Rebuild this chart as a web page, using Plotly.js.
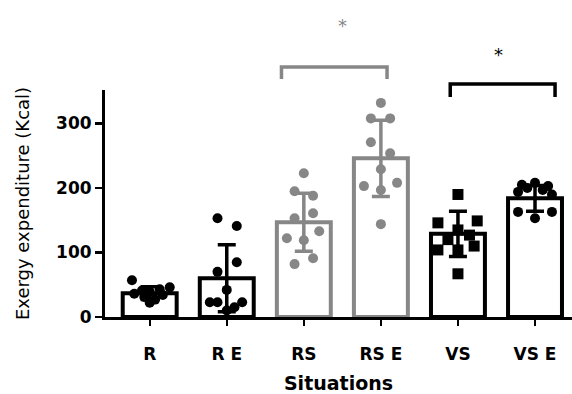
<!DOCTYPE html>
<html>
<head>
<meta charset="utf-8">
<script src="https://cdn.plot.ly/plotly-3.0.1.min.js"></script>
<style>html,body{margin:0;padding:0;background:#fff;}#chart{width:572px;height:394px;}</style>
</head>
<body>
<div id="chart"></div>
<script>
const categories = ["R", "R E", "RS", "RS E", "VS", "VS E"];
const means = [37, 60, 147, 246, 129, 184];
const sds = [10, 52, 45, 59, 35, 20];
const pointsR   = [57, 46, 43, 41, 39, 36, 34, 31, 27, 22];
const pointsRE  = [153, 141, 85, 70, 42, 23, 23, 23, 15, 10];
const pointsRS  = [223, 195, 188, 161, 153, 133, 122, 119, 91, 82];
const pointsRSE = [332, 308, 308, 271, 254, 229, 203, 208, 197, 144];
const pointsVS  = [190, 149, 146, 135, 127, 120, 110, 104, 104, 67];
const pointsVSE = [208, 205, 203, 200, 197, 194, 190, 163, 163, 153];
const jitterR   = [-0.23, 0.26, 0.13, -0.1, 0, -0.2, 0.17, -0.07, 0.07, 0];
const jitterRE  = [-0.12, 0.13, 0.13, -0.12, 0, -0.22, -0.12, 0.2, 0.1, 0];
const jitterRS  = [0, -0.12, 0.12, 0.12, -0.12, 0.2, -0.22, 0, 0.12, -0.12];
const jitterRSE = [0, -0.13, 0.12, -0.13, 0.12, 0, -0.22, 0.21, 0, 0];
const jitterVS  = [0, 0.25, -0.26, 0, 0.15, -0.13, 0.21, -0.26, 0, 0];
const jitterVSE = [0, -0.17, 0.17, -0.1, 0.1, -0.22, 0.22, -0.22, 0.22, 0];

const allPoints = [pointsR, pointsRE, pointsRS, pointsRSE, pointsVS, pointsVSE];
const allJitter = [jitterR, jitterRE, jitterRS, jitterRSE, jitterVS, jitterVSE];
const BLACK = "#000000", GRAY = "#878787";
const colors = [BLACK, BLACK, GRAY, GRAY, BLACK, BLACK];
const symbols = ["circle", "circle", "circle", "circle", "square", "circle"];

const traces = [];
categories.forEach((c, i) => {
  traces.push({
    type: "bar", x: [i], y: [means[i]], width: 0.7,
    marker: {color: "#ffffff", line: {color: colors[i], width: 4}},
    error_y: {type: "data", array: [sds[i]], visible: true, color: colors[i], thickness: 3.5, width: 9},
    showlegend: false, hoverinfo: "skip"
  });
});
categories.forEach((c, i) => {
  traces.push({
    type: "scatter", mode: "markers",
    x: allPoints[i].map((v, k) => i + allJitter[i][k]),
    y: allPoints[i],
    marker: {color: colors[i], size: symbols[i] === "square" ? 11 : 10, symbol: symbols[i]},
    showlegend: false, hoverinfo: "skip", cliponaxis: false
  });
});

const font = {family: "DejaVu Sans, sans-serif", color: "#000"};
const layout = {
  width: 572, height: 394,
  margin: {l: 105, r: 0, t: 90, b: 77},
  paper_bgcolor: "#fff", plot_bgcolor: "#fff",
  barmode: "overlay",
  showlegend: false,
  xaxis: {
    range: [-0.58, 5.48],
    tickvals: [0, 1, 2, 3, 4, 5], ticktext: categories,
    showgrid: false, zeroline: false,
    showline: true, linecolor: "#000", linewidth: 3,
    ticks: "outside", ticklen: 6, tickwidth: 2, tickcolor: "#000",
    ticklabelstandoff: 14,
    tickfont: Object.assign({}, font, {size: 17, weight: "bold"}),
    title: {text: "Situations", font: Object.assign({}, font, {size: 19, weight: "bold"}), standoff: 15}
  },
  yaxis: {
    range: [0, 352],
    tickvals: [0, 100, 200, 300],
    showgrid: false, zeroline: false,
    showline: true, linecolor: "#000", linewidth: 3,
    ticks: "outside", ticklen: 7, tickwidth: 2.5, tickcolor: "#000",
    tickfont: Object.assign({}, font, {size: 17, weight: "bold"}),
    title: {text: "Exergy expenditure (Kcal)", font: Object.assign({}, font, {size: 18}), standoff: 22}
  },
  shapes: [
    {type: "path", xref: "x", yref: "paper", path: "M1.71,1.048 L1.71,1.101 L3.08,1.101 L3.08,1.048",
     line: {color: GRAY, width: 3.5}},
    {type: "path", xref: "x", yref: "paper", path: "M3.9,0.969 L3.9,1.026 L5.26,1.026 L5.26,0.969",
     line: {color: BLACK, width: 3.5}}
  ],
  annotations: [
    {text: "*", x: 2.5, xref: "x", y: 1.34, yref: "paper", showarrow: false,
     font: Object.assign({}, font, {size: 18, color: GRAY})},
    {text: "*", x: 4.52, xref: "x", y: 1.21, yref: "paper", showarrow: false,
     font: Object.assign({}, font, {size: 18, color: BLACK})}
  ]
};
Plotly.newPlot("chart", traces, layout, {displayModeBar: false, staticPlot: true});
</script>
</body>
</html>
